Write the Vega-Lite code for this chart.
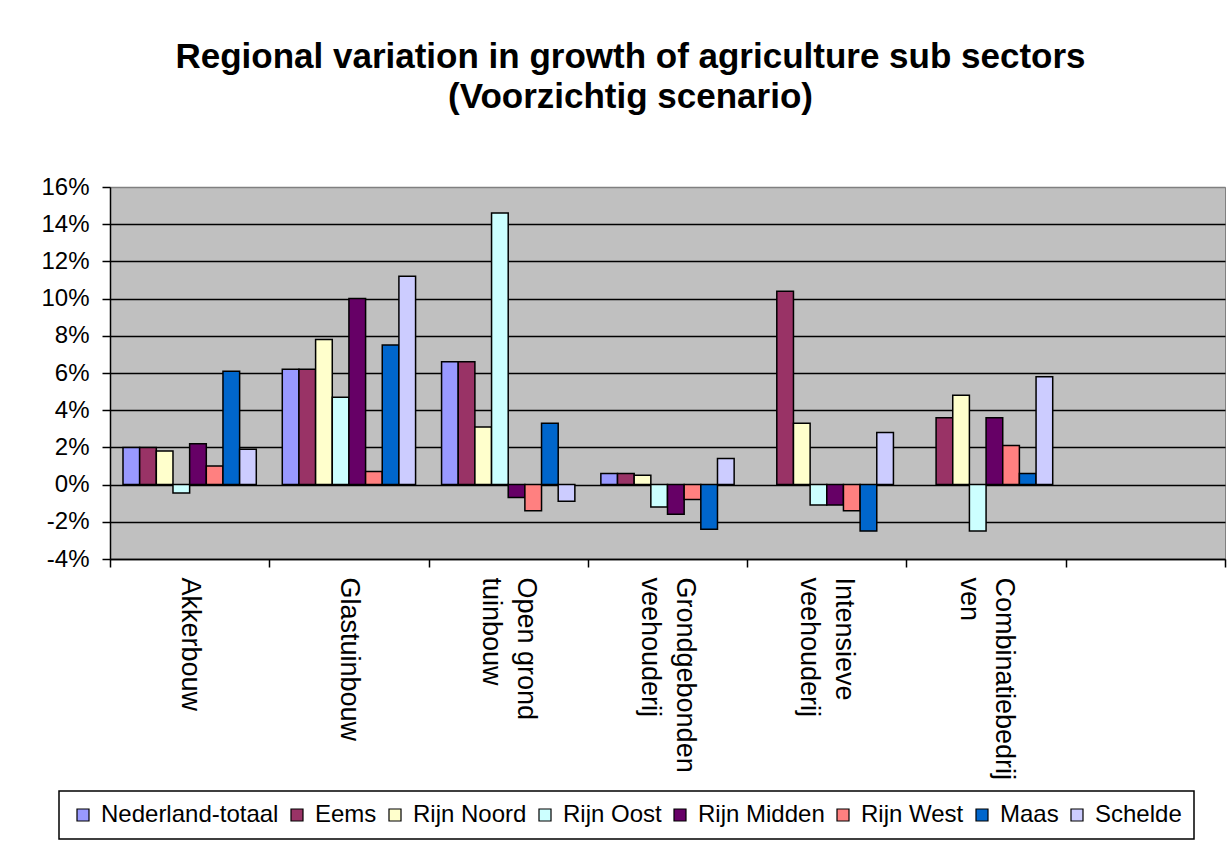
{
  "$schema": "https://vega.github.io/schema/vega-lite/v6.json",
  "autosize": "none",
  "width": 1115,
  "height": 372,
  "padding": {"left": 110, "top": 187, "right": 2, "bottom": 286},
  "background": "white",
  "title": {
    "text": ["Regional variation in growth of agriculture sub sectors", "(Voorzichtig scenario)"],
    "font": "Liberation Sans",
    "fontSize": 35,
    "fontWeight": "bold",
    "lineHeight": 40,
    "color": "black",
    "anchor": "middle",
    "frame": "group",
    "dx": -37,
    "offset": 60
  },
  "data": {
    "values": [
      {"sector": "Akkerbouw", "region": "Nederland-totaal", "growth": 2.0},
      {"sector": "Akkerbouw", "region": "Eems", "growth": 2.0},
      {"sector": "Akkerbouw", "region": "Rijn Noord", "growth": 1.8},
      {"sector": "Akkerbouw", "region": "Rijn Oost", "growth": -0.45},
      {"sector": "Akkerbouw", "region": "Rijn Midden", "growth": 2.2},
      {"sector": "Akkerbouw", "region": "Rijn West", "growth": 1.0},
      {"sector": "Akkerbouw", "region": "Maas", "growth": 6.1},
      {"sector": "Akkerbouw", "region": "Schelde", "growth": 1.9},
      {"sector": "Glastuinbouw", "region": "Nederland-totaal", "growth": 6.2},
      {"sector": "Glastuinbouw", "region": "Eems", "growth": 6.2},
      {"sector": "Glastuinbouw", "region": "Rijn Noord", "growth": 7.8},
      {"sector": "Glastuinbouw", "region": "Rijn Oost", "growth": 4.7},
      {"sector": "Glastuinbouw", "region": "Rijn Midden", "growth": 10.0},
      {"sector": "Glastuinbouw", "region": "Rijn West", "growth": 0.7},
      {"sector": "Glastuinbouw", "region": "Maas", "growth": 7.5},
      {"sector": "Glastuinbouw", "region": "Schelde", "growth": 11.2},
      {"sector": "Open grond tuinbouw", "region": "Nederland-totaal", "growth": 6.6},
      {"sector": "Open grond tuinbouw", "region": "Eems", "growth": 6.6},
      {"sector": "Open grond tuinbouw", "region": "Rijn Noord", "growth": 3.1},
      {"sector": "Open grond tuinbouw", "region": "Rijn Oost", "growth": 14.6},
      {"sector": "Open grond tuinbouw", "region": "Rijn Midden", "growth": -0.7},
      {"sector": "Open grond tuinbouw", "region": "Rijn West", "growth": -1.4},
      {"sector": "Open grond tuinbouw", "region": "Maas", "growth": 3.3},
      {"sector": "Open grond tuinbouw", "region": "Schelde", "growth": -0.9},
      {"sector": "Grondgebonden veehouderij", "region": "Nederland-totaal", "growth": 0.6},
      {"sector": "Grondgebonden veehouderij", "region": "Eems", "growth": 0.6},
      {"sector": "Grondgebonden veehouderij", "region": "Rijn Noord", "growth": 0.5},
      {"sector": "Grondgebonden veehouderij", "region": "Rijn Oost", "growth": -1.2},
      {"sector": "Grondgebonden veehouderij", "region": "Rijn Midden", "growth": -1.6},
      {"sector": "Grondgebonden veehouderij", "region": "Rijn West", "growth": -0.8},
      {"sector": "Grondgebonden veehouderij", "region": "Maas", "growth": -2.4},
      {"sector": "Grondgebonden veehouderij", "region": "Schelde", "growth": 1.4},
      {"sector": "Intensieve veehouderij", "region": "Eems", "growth": 10.4},
      {"sector": "Intensieve veehouderij", "region": "Rijn Noord", "growth": 3.3},
      {"sector": "Intensieve veehouderij", "region": "Rijn Oost", "growth": -1.1},
      {"sector": "Intensieve veehouderij", "region": "Rijn Midden", "growth": -1.1},
      {"sector": "Intensieve veehouderij", "region": "Rijn West", "growth": -1.4},
      {"sector": "Intensieve veehouderij", "region": "Maas", "growth": -2.5},
      {"sector": "Intensieve veehouderij", "region": "Schelde", "growth": 2.8},
      {"sector": "Combinatiebedrijven", "region": "Eems", "growth": 3.6},
      {"sector": "Combinatiebedrijven", "region": "Rijn Noord", "growth": 4.8},
      {"sector": "Combinatiebedrijven", "region": "Rijn Oost", "growth": -2.5},
      {"sector": "Combinatiebedrijven", "region": "Rijn Midden", "growth": 3.6},
      {"sector": "Combinatiebedrijven", "region": "Rijn West", "growth": 2.1},
      {"sector": "Combinatiebedrijven", "region": "Maas", "growth": 0.6},
      {"sector": "Combinatiebedrijven", "region": "Schelde", "growth": 5.8}
    ]
  },
  "mark": {"type": "bar", "stroke": "black", "strokeWidth": 1.5},
  "encoding": {
    "x": {
      "field": "sector",
      "type": "nominal",
      "sort": null,
      "scale": {
        "domain": ["Akkerbouw", "Glastuinbouw", "Open grond tuinbouw", "Grondgebonden veehouderij", "Intensieve veehouderij", "Combinatiebedrijven", " "],
        "paddingInner": 0,
        "paddingOuter": 0
      },
      "axis": {
        "title": null,
        "labelAngle": 90,
        "labelAlign": "left",
        "labelBaseline": "middle",
        "labelFontSize": 27,
        "labelLineHeight": 35,
        "labelPadding": 10,
        "labelLimit": 400,
        "labelOverlap": false,
        "labelColor": "black",
        "labelOffset": {"condition": {"test": "datum.value == 'Akkerbouw' || datum.value == 'Glastuinbouw'", "value": 0}, "value": 17},
        "tickBand": "extent",
        "tickSize": 8,
        "tickColor": "black",
        "tickWidth": 1.5,
        "domainColor": "black",
        "domainWidth": 1.5,
        "grid": false,
        "labelExpr": "datum.label == 'Open grond tuinbouw' ? ['Open grond', 'tuinbouw'] : datum.label == 'Grondgebonden veehouderij' ? ['Grondgebonden', 'veehouderij'] : datum.label == 'Intensieve veehouderij' ? ['Intensieve', 'veehouderij'] : datum.label == 'Combinatiebedrijven' ? ['Combinatiebedrij', 'ven'] : datum.label"
      }
    },
    "xOffset": {
      "field": "region",
      "type": "nominal",
      "scale": {
        "domain": ["Nederland-totaal", "Eems", "Rijn Noord", "Rijn Oost", "Rijn Midden", "Rijn West", "Maas", "Schelde"],
        "paddingInner": 0,
        "paddingOuter": 0.78
      }
    },
    "y": {
      "field": "growth",
      "type": "quantitative",
      "scale": {"domain": [-4, 16], "nice": false},
      "axis": {
        "title": null,
        "values": [-4, -2, 0, 2, 4, 6, 8, 10, 12, 14, 16],
        "labelExpr": "datum.value + '%'",
        "labelFontSize": 24,
        "labelColor": "black",
        "labelPadding": 13,
        "tickSize": 8,
        "tickColor": "black",
        "tickWidth": 1.5,
        "domainColor": "black",
        "domainWidth": 1.5,
        "grid": true,
        "gridColor": {"condition": {"test": "datum.value == 16", "value": "#808080"}, "value": "black"},
        "gridWidth": 1.5
      }
    },
    "color": {
      "field": "region",
      "type": "nominal",
      "scale": {
        "domain": ["Nederland-totaal", "Eems", "Rijn Noord", "Rijn Oost", "Rijn Midden", "Rijn West", "Maas", "Schelde"],
        "range": ["#9999FF", "#993366", "#FFFFCC", "#CCFFFF", "#660066", "#FF8080", "#0066CC", "#CCCCFF"]
      },
      "legend": {
        "title": null,
        "orient": "none",
        "legendX": -51,
        "legendY": 604,
        "direction": "horizontal",
        "columns": 8,
        "columnPadding": 6,
        "labelFontSize": 24,
        "labelColor": "black",
        "labelOffset": 6,
        "labelLimit": 400,
        "symbolType": "square",
        "symbolSize": 144,
        "symbolStrokeColor": "black",
        "symbolStrokeWidth": 1.2,
        "padding": 12,
        "strokeColor": "black",
        "fillColor": "white"
      }
    }
  },
  "config": {
    "font": "Liberation Sans",
    "view": {"fill": "#C0C0C0", "stroke": "#808080", "strokeWidth": 1},
    "legend": {"strokeWidth": 1.5}
  }
}
